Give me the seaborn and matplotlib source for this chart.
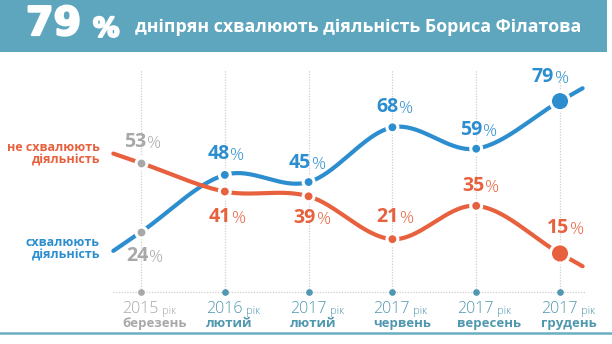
import numpy as np
import pandas as pd
import matplotlib
matplotlib.use("Agg")
import matplotlib.pyplot as plt
import matplotlib.transforms as mtransforms
import matplotlib.patheffects as pe
from matplotlib.patches import Rectangle
import seaborn as sns

# ---- data -------------------------------------------------------------
years = ["2015", "2016", "2017", "2017", "2017", "2017"]
months = ["березень", "лютий", "лютий", "червень", "вересень", "грудень"]
approve = [24, 48, 45, 68, 59, 79]
disapprove = [53, 41, 39, 21, 35, 15]
series_names = ["схвалюють\nдіяльність", "не схвалюють\nдіяльність"]
title_rest = "дніпрян схвалюють діяльність Бориса Філатова"

# ---- style ------------------------------------------------------------
BLUE = "#2d8ecf"
ORANGE = "#e8613e"
GRAY = "#a8a8a8"
TEAL = "#4f98af"
HEADER = "#5ea6bd"
GRID = "#cfcfcf"

sns.set_theme(style="white")
FONT = ["Open Sans", "DejaVu Sans"]
plt.rcParams["font.family"] = FONT

W, H = 612, 344
fig = plt.figure(figsize=(W / 100, H / 100), dpi=100)
ax = fig.add_axes([0, 0, 1, 1])

# pixel layout of the plotting area
X0, STEP = 141.0, 83.8                # px of first category, px per category
VREF, YREF, PXV = 53.0, 163.0, 2.38   # value VREF sits at YREF px; px per %


def fx(px):
    return px / W


def fy(py):
    return 1 - py / H


def shifted(dx, dy):
    # data transform shifted by a pixel offset (dy positive = down)
    return mtransforms.offset_copy(ax.transData, fig=fig, x=dx, y=-dy, units="dots")


# ---- smooth curves (Catmull-Rom through the points, straight tails) ----
def smooth(vals, left=0.33, right=0.27, n=40):
    v = np.asarray(vals, float)
    k = len(v)
    m = np.empty(k)
    m[1:-1] = (v[2:] - v[:-2]) / 2
    m[0] = v[1] - v[0]
    m[-1] = v[-1] - v[-2]
    xs = [np.array([-left])]
    ys = [np.array([v[0] - m[0] * left])]
    for i in range(k - 1):
        t = np.linspace(0, 1, n, endpoint=False)
        h00 = 2 * t**3 - 3 * t**2 + 1
        h10 = t**3 - 2 * t**2 + t
        h01 = -2 * t**3 + 3 * t**2
        h11 = t**3 - t**2
        xs.append(i + t)
        ys.append(h00 * v[i] + h10 * m[i] + h01 * v[i + 1] + h11 * m[i + 1])
    xs.append(np.array([k - 1, k - 1 + right]))
    ys.append(np.array([v[-1], v[-1] + m[-1] * right]))
    return np.concatenate(xs), np.concatenate(ys)


curves = []
for name, vals in (("approve", approve), ("disapprove", disapprove)):
    cx, cy = smooth(vals)
    curves.append(pd.DataFrame({"x": cx, "v": cy, "series": name}))
curve_df = pd.concat(curves, ignore_index=True)
palette = {"approve": BLUE, "disapprove": ORANGE}

idx = np.arange(len(years))
base_colors = [GRAY] + [TEAL] * (len(years) - 1)

sns.lineplot(data=curve_df, x="x", y="v", hue="series", palette=palette,
             estimator=None, sort=False, linewidth=3.0, legend=False,
             ax=ax, zorder=3)

# markers with a white ring that breaks the line
pts = pd.DataFrame({
    "x": np.concatenate([idx, idx]),
    "v": approve + disapprove,
    "series": ["approve"] * len(idx) + ["disapprove"] * len(idx),
})
mid = pts[(pts.x > 0) & (pts.x < len(idx) - 1)]
first = pts[pts.x == 0]
last = pts[pts.x == len(idx) - 1]
sns.scatterplot(data=mid, x="x", y="v", hue="series", palette=palette,
                s=62, edgecolor="white", linewidth=2.2, legend=False,
                ax=ax, zorder=4)
sns.scatterplot(data=first, x="x", y="v", color=GRAY,
                s=62, edgecolor="white", linewidth=2.2, legend=False,
                ax=ax, zorder=4)
sns.scatterplot(data=last, x="x", y="v", hue="series", palette=palette,
                s=190, edgecolor="white", linewidth=2.2, legend=False,
                ax=ax, zorder=4)
ax.set_xlim(-X0 / STEP, (W - X0) / STEP)
ax.set_ylim(VREF - (H - YREF) / PXV, VREF + YREF / PXV)
ax.set_axis_off()

# grid: vertical dotted lines and dotted baseline with category dots
xband = ax.get_xaxis_transform()
ax.vlines(idx, fy(292), fy(70), transform=xband,
          colors=GRID, linestyles=(0, (1, 1.2)), linewidth=0.9, zorder=1)
ax.plot([fx(113), fx(585)], [fy(292), fy(292)], transform=fig.transFigure,
        color=GRID, linestyle=(0, (1, 1.2)), linewidth=0.9, zorder=1)
for i, c in zip(idx, base_colors):
    ax.plot([i], [fy(292)], marker="o", ms=3.8, color=c,
            transform=xband, zorder=2)

# ---- value labels -------------------------------------------------------
approve_pos = [(-3.5, 24), (-6.5, -21), (-9, -19), (-5, -20), (-5, -19), (-17, -24)]
disapprove_pos = [(-5.5, -21), (-5, 25), (-4, 22), (-4.5, -22), (-3, -20), (-2, -25)]


def value_label(i, v, color, off):
    t = ax.text(i, v, f"{v}", transform=shifted(*off), ha="center",
                va="center", fontsize=14, fontweight="bold", color=color,
                zorder=6)
    ax.annotate("%", xy=(1, 0), xycoords=t, xytext=(0.6, 0),
                textcoords="offset points", ha="left", va="bottom",
                fontsize=12.5, fontweight="light", color=color, zorder=6)


for i in idx:
    value_label(i, approve[i], GRAY if i == 0 else BLUE, approve_pos[i])
    value_label(i, disapprove[i], GRAY if i == 0 else ORANGE, disapprove_pos[i])

# series names on the left
fig.text(fx(100), fy(154), series_names[1], ha="right", va="center",
         fontsize=9, fontweight="bold", color=ORANGE, linespacing=1.0)
fig.text(fx(100), fy(248.5), series_names[0], ha="right", va="center",
         fontsize=9, fontweight="bold", color=BLUE, linespacing=1.0)

# ---- category labels ------------------------------------------------------
cat_trans = (mtransforms.blended_transform_factory(ax.transData, fig.transFigure)
             + mtransforms.Affine2D().translate(-19, 0))
for i, yr, mo, c in zip(idx, years, months, base_colors):
    yt = ax.text(i, fy(313), yr, transform=cat_trans, ha="left", va="baseline",
                 fontsize=11.5, fontweight="light", color=c)
    ax.annotate("рік", xy=(1, 0), xycoords=yt, xytext=(2.5, 0),
                textcoords="offset points", ha="left", va="bottom",
                fontsize=8, fontweight="light", color=c)
    ax.text(i, fy(327), mo, transform=cat_trans, ha="left", va="baseline",
            fontsize=9.5, fontweight="bold", color=c)

# ---- header ---------------------------------------------------------------
fig.patches.append(Rectangle((0, fy(52)), fx(607), 52 / H, transform=fig.transFigure,
                             facecolor=HEADER, edgecolor="none", zorder=0))
thick = [pe.withStroke(linewidth=1.6, foreground="white")]
fig.text(fx(26), fy(35), f"{approve[-1]}", ha="left", va="baseline",
         fontsize=28.5, fontweight="bold", color="white", family="DejaVu Sans",
         path_effects=thick)
fig.text(fx(93), fy(36.5), "%", ha="left", va="baseline",
         fontsize=19, fontweight="bold", color="white", family="DejaVu Sans",
         path_effects=thick)
fig.text(fx(135), fy(32), title_rest, ha="left", va="baseline",
         fontsize=12.8, fontweight="bold", color="white")

# bottom rule
fig.add_artist(plt.Line2D([0, 1], [fy(333), fy(333)], transform=fig.transFigure,
                          color="#6aaec3", linewidth=1.8))

fig.savefig("out.png", dpi=100, facecolor="white")
